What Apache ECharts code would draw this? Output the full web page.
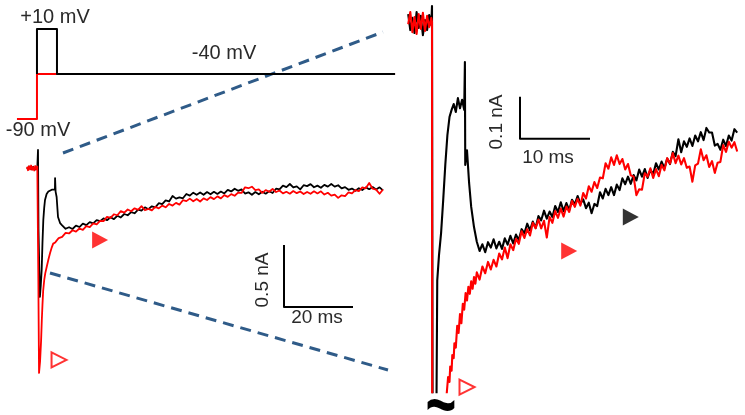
<!DOCTYPE html>
<html><head><meta charset="utf-8">
<script src="https://cdn.jsdelivr.net/npm/echarts/dist/echarts.min.js"></script>
<style>html,body{margin:0;padding:0;background:#fff}#c{width:745px;height:415px}</style>
</head><body><div id="c"></div>
<script>
// ---- Voltage protocol (time in ms, voltage in mV) ----
const protocolRed = [[-6.1,-90],[-0.3,-90],[-0.3,-40],[103.5,-40]];
const protocolBlack = [[-0.3,-40],[-0.3,10],[5.5,10],[5.5,-40],[103.5,-40]];
const protocolLabels = ['+10 mV','-40 mV','-90 mV'];

// ---- Left panel currents (time in ms, current in pA) ----
const leftBlack = [[-3.2,-8],[-2.6,12],[-2.0,-10],[-1.4,10],[-0.8,-12],[-0.2,6],[0,145],[0.15,-500],[0.55,-1040],[0.8,-950],[1.07,-820],[1.3,-600],[1.54,-419],[1.8,-320],[2.03,-258],[2.5,-210],[3.0,-190],[3.5,-180],[4.0,-175],[4.5,-170],[4.9,-175],[4.95,-81],[5.1,-190],[5.4,-234],[5.8,-395],[6.4,-444],
[7,-462],[8,-490],[9,-478],[10,-492],[11,-465],[12,-476],[13,-449],[14,-461],[15,-436],[16,-447],[17,-420],[18,-429],[19,-406],[20,-421],[21,-397],[22,-412],[23,-385],[24,-399],[25,-371],[26,-381],[27,-356],[28,-365],[29,-336],[30,-344],[31,-317],[32,-332],[33,-309],[34,-318],[35,-284],[36,-291],[37,-261],[38,-270],[39,-226],[40,-247],[41,-237],[42,-244],[43,-210],[44,-223],[45,-199],[46,-216],[47,-197],[48,-216],[49,-194],[50,-212],[51,-192],[52,-209],[53,-190],[54,-205],[55,-177],[56,-189],[57,-167],[58,-184],[59,-173],[60,-206],[61,-196],[62,-216],[63,-194],[64,-212],[65,-191],[66,-207],[67,-188],[68,-202],[69,-167],[70,-173],[71,-142],[72,-154],[73,-129],[74,-157],[75,-148],[76,-172],[77,-139],[78,-146],[79,-130],[80,-155],[81,-142],[82,-159],[83,-136],[84,-150],[85,-129],[86,-150],[87,-139],[88,-165],[89,-154],[90,-176],[91,-166],[92,-184],[93,-163],[94,-178],[95,-156],[96,-171],[97,-154],[98,-173],[99,-156],[100,-181]];
const leftRed = [[-3.2,10],[-2.9,-18],[-2.6,14],[-2.3,-12],[-2.0,20],[-1.7,-15],[-1.4,8],[-1.1,-20],[-0.8,16],[-0.5,-10],[-0.2,12],[0,0],[0.1,-900],[0.3,-1653],[0.6,-1560],[0.9,-1390],[1.1,-1230],[1.3,-1100],[1.5,-990],[1.8,-905],[2.1,-850],[2.5,-800],[3.0,-740],[3.5,-686],[4.0,-640],[4.4,-610],[5.0,-600],
[6,-565],[7,-555],[8,-524],[9,-528],[10,-502],[11,-513],[12,-488],[13,-499],[14,-468],[15,-476],[16,-447],[17,-455],[18,-426],[19,-428],[20,-394],[21,-402],[22,-373],[23,-381],[24,-348],[25,-360],[26,-335],[27,-349],[28,-325],[29,-337],[30,-308],[31,-341],[32,-330],[33,-342],[34,-314],[35,-326],[36,-303],[37,-317],[38,-290],[39,-303],[40,-281],[41,-295],[42,-260],[43,-267],[44,-247],[45,-268],[46,-250],[47,-270],[48,-245],[49,-258],[50,-235],[51,-251],[52,-229],[53,-245],[54,-219],[55,-233],[56,-211],[57,-224],[58,-199],[59,-201],[60,-156],[61,-163],[62,-151],[63,-178],[64,-172],[65,-201],[66,-178],[67,-192],[68,-169],[69,-194],[70,-181],[71,-205],[72,-192],[73,-207],[74,-186],[75,-203],[76,-189],[77,-210],[78,-193],[79,-208],[80,-188],[81,-205],[82,-188],[83,-214],[84,-200],[85,-223],[86,-214],[87,-241],[88,-220],[89,-226],[90,-197],[91,-205],[92,-178],[93,-186],[94,-157],[95,-164],[96,-121],[97,-167],[98,-174],[99,-208],[100,-173]];

// ---- Right (zoomed) panel currents (time in ms, current in pA) ----
const rightBlack = [[-3.4,14],[-3.1,-24],[-2.8,5],[-2.5,-31],[-2.2,19],[-1.9,-19],[-1.6,10],[-1.3,-36],[-1.0,0],[-0.7,-24],[-0.4,12],[-0.1,-12],[0,33],[0.1,-1100],[0.55,-1100],[0.65,-886],[0.75,-620],[1.0,-560],[1.3,-507],[1.6,-429],[1.9,-345],[2.2,-274],[2.5,-231],[2.8,-214],[3.1,-200],[3.4,-219],[3.7,-186],[4.0,-210],[4.3,-190],[4.6,-214],[4.7,-100],[4.75,-345],[5.0,-310],[5.3,-388],[5.6,-445],[6.0,-493],
[6.4,-528],[6.8,-550],[7.2,-534],[7.6,-553],[8.0,-529],[8.4,-542],[8.8,-522],[9.2,-544],[9.6,-528],[10.0,-545],[10.4,-520],[10.8,-535],[11.2,-514],[11.6,-532],[12.0,-511],[12.4,-524],[12.8,-498],[13.2,-508],[13.6,-485],[14.0,-501],[14.4,-480],[14.8,-495],[15.2,-467],[15.6,-477],[16.0,-454],[16.4,-473],[16.8,-456],[17.2,-469],[17.6,-443],[18.0,-457],[18.4,-434],[18.8,-455],[19.2,-436],[19.6,-453],[20.0,-428],[20.4,-439],[20.8,-419],[21.2,-438],[21.6,-427],[22.0,-448],[22.4,-435],[22.8,-460],[23.2,-438],[23.6,-443],[24.0,-410],[24.4,-425],[24.8,-402],[25.2,-417],[25.6,-398],[26.0,-417],[26.4,-392],[26.8,-405],[27.2,-377],[27.6,-391],[28.0,-373],[28.4,-390],[28.8,-369],[29.2,-382],[29.6,-356],[30.0,-373],[30.4,-355],[30.8,-376],[31.2,-357],[31.6,-367],[32.0,-341],[32.4,-356],[32.8,-337],[33.2,-353],[33.6,-330],[34.0,-343],[34.4,-314],[34.8,-324],[35.2,-284],[35.6,-315],[36.0,-289],[36.4,-302],[36.8,-282],[37.2,-300],[37.6,-275],[38.0,-289],[38.4,-267],[38.8,-286],[39.2,-257],[39.6,-268],[40.0,-268],[40.4,-299],[40.8,-295],[41.2,-309],[41.6,-285],[42.0,-300],[42.4,-275],[42.8,-287],[43.2,-260],[43.6,-268]];
const rightRed = [[-3.4,-10],[-3.1,19],[-2.8,-29],[-2.5,7],[-2.2,-33],[-1.9,14],[-1.6,-21],[-1.3,17],[-1.0,-26],[-0.7,10],[-0.4,-17],[-0.1,5],[0,-5],[0.05,-1800],[1.0,-1300],[2.1,-890],[2.3,-850],[2.5,-862],[2.6,-825],[2.8,-835],[2.9,-798],[3.1,-805],[3.2,-770],[3.4,-780],[3.6,-728],[3.8,-745],[4.0,-700],[4.2,-722],[4.4,-676],[4.6,-690],[4.8,-650],[5.0,-668],[5.2,-635],[5.4,-652],[5.6,-622],[5.8,-640],[6.0,-612],[6.2,-628],
[6.4,-601],[6.8,-618],[7.2,-587],[7.6,-603],[8.0,-576],[8.4,-594],[8.8,-571],[9.2,-587],[9.6,-556],[10.0,-570],[10.4,-542],[10.8,-567],[11.2,-534],[11.6,-548],[12.0,-521],[12.4,-533],[12.8,-503],[13.2,-519],[13.6,-498],[14.0,-513],[14.4,-483],[14.8,-496],[15.2,-475],[15.6,-496],[16.0,-478],[16.4,-518],[16.8,-469],[17.2,-483],[17.6,-455],[18.0,-471],[18.4,-449],[18.8,-468],[19.2,-444],[19.6,-457],[20.0,-431],[20.4,-445],[20.8,-426],[21.2,-442],[21.6,-412],[22.0,-425],[22.4,-396],[22.8,-409],[23.2,-386],[23.6,-400],[24.0,-375],[24.4,-377],[24.8,-341],[25.2,-354],[25.6,-327],[26.0,-345],[26.4,-322],[26.8,-343],[27.2,-331],[27.6,-356],[28.0,-343],[28.4,-370],[28.8,-373],[29.2,-417],[29.6,-403],[30.0,-404],[30.4,-365],[30.8,-373],[31.2,-353],[31.6,-376],[32.0,-355],[32.4,-372],[32.8,-345],[33.2,-358],[33.6,-329],[34.0,-342],[34.4,-317],[34.8,-341],[35.2,-323],[35.6,-344],[36.0,-329],[36.4,-352],[36.8,-349],[37.2,-385],[37.6,-346],[38.0,-342],[38.4,-308],[38.8,-334],[39.2,-322],[39.6,-350],[40.0,-336],[40.4,-364],[40.8,-340],[41.2,-338],[41.6,-298],[42.0,-314],[42.4,-290],[42.8,-304],[43.2,-291],[43.6,-313]];

// ---- Markers (time ms, current pA) ----
const leftFilledRed = [[18.0,-581]];
const leftOpenRed = [[6.1,-1548]];
const rightFilledRed = [[19.6,-550]];
const rightFilledBlack = [[28.4,-469]];
const rightOpenRed = [[5.0,-874]];

// ---- Scale bars ----
const leftScale = {t: 71.3, i: -621, dI: 500, dT: 20, labelI: '0.5 nA', labelT: '20 ms'};
const rightScale = {t: 12.57, i: -183, dI: 100, dT: 10, labelI: '0.1 nA', labelT: '10 ms'};

const RED = '#ff0000', BLACK = '#000000', DASH = '#2f5b88', TXT = '#2a2a2a';
const FONT = '"Liberation Sans", Arial, sans-serif';

function ln(data, color, idx, width, z) {
  return {type: 'line', data: data, xAxisIndex: idx, yAxisIndex: idx, symbol: 'none', showSymbol: false,
    lineStyle: {color: color, width: width, join: 'round'}, clip: true, z: z, animation: false, silent: true};
}
function tri(data, idx, fill, stroke, size) {
  return {type: 'scatter', data: data, xAxisIndex: idx, yAxisIndex: idx, symbol: 'triangle', symbolRotate: -90,
    symbolSize: size, itemStyle: {color: fill, borderColor: stroke, borderWidth: stroke ? 2 : 0}, z: 10, animation: false, silent: true};
}
function bar(s) {
  return [[s.t, s.i], [s.t, s.i - s.dI], [s.t + s.dT, s.i - s.dI]];
}
function txt(x, y, text, size, rot) {
  return {type: 'text', x: x, y: y, rotation: rot || 0,
    style: {text: text, font: size + 'px ' + FONT, fill: TXT, align: 'center', verticalAlign: 'middle'}};
}

const chart = echarts.init(document.getElementById('c'), null, {renderer: 'canvas'});
chart.setOption({
  backgroundColor: '#ffffff',
  animation: false,
  grid: [
    {left: 17.3, top: 20, width: 379.5, height: 108},
    {left: 17.3, top: 143.2, width: 379.5, height: 235.6},
    {left: 404, top: 3.2, width: 336, height: 388.9}
  ],
  xAxis: [
    {type: 'value', gridIndex: 0, min: -6, max: 104, show: false},
    {type: 'value', gridIndex: 1, min: -6, max: 104, show: false},
    {type: 'value', gridIndex: 2, min: -4, max: 44, show: false}
  ],
  yAxis: [
    {type: 'value', gridIndex: 0, min: -100, max: 20, show: false},
    {type: 'value', gridIndex: 1, min: -1700, max: 200, show: false},
    {type: 'value', gridIndex: 2, min: -886, max: 40, show: false}
  ],
  series: [
    ln(protocolRed, RED, 0, 2, 2),
    ln(protocolBlack, BLACK, 0, 2, 3),
    ln(leftBlack, BLACK, 1, 1.8, 2),
    ln(leftRed, RED, 1, 1.8, 3),
    ln(rightBlack, BLACK, 2, 2.1, 2),
    ln(rightRed, RED, 2, 2.1, 3),
    ln(bar(leftScale), BLACK, 1, 2, 4),
    ln(bar(rightScale), BLACK, 2, 2, 4),
    tri(leftFilledRed, 1, RED, null, [17, 16]),
    tri(leftOpenRed, 1, '#ffffff', RED, [15, 15]),
    tri(rightFilledRed, 2, RED, null, [17, 16]),
    tri(rightFilledBlack, 2, BLACK, null, [17, 16]),
    tri(rightOpenRed, 2, '#ffffff', RED, [15, 15])
  ],
  graphic: [
    {type: 'line', shape: {x1: 63, y1: 153, x2: 383, y2: 32}, style: {stroke: DASH, lineWidth: 3, lineDash: [11, 7]}, z: 1},
    {type: 'line', shape: {x1: 50, y1: 273, x2: 388, y2: 370}, style: {stroke: DASH, lineWidth: 3, lineDash: [11, 7]}, z: 1},
    txt(55, 17, protocolLabels[0], 20),
    txt(224, 53, protocolLabels[1], 20),
    txt(38, 130, protocolLabels[2], 20),
    txt(263, 280, leftScale.labelI, 19, Math.PI / 2),
    txt(317, 318, leftScale.labelT, 19),
    txt(497, 122, rightScale.labelI, 19, Math.PI / 2),
    txt(548, 158, rightScale.labelT, 19),
    {type: 'text', x: 441, y: 409, scaleX: 1.1, scaleY: 1.6,
      style: {text: '~', font: 'bold 48px ' + FONT, fill: '#000', align: 'center', verticalAlign: 'middle'}}
  ]
});
</script></body></html>
